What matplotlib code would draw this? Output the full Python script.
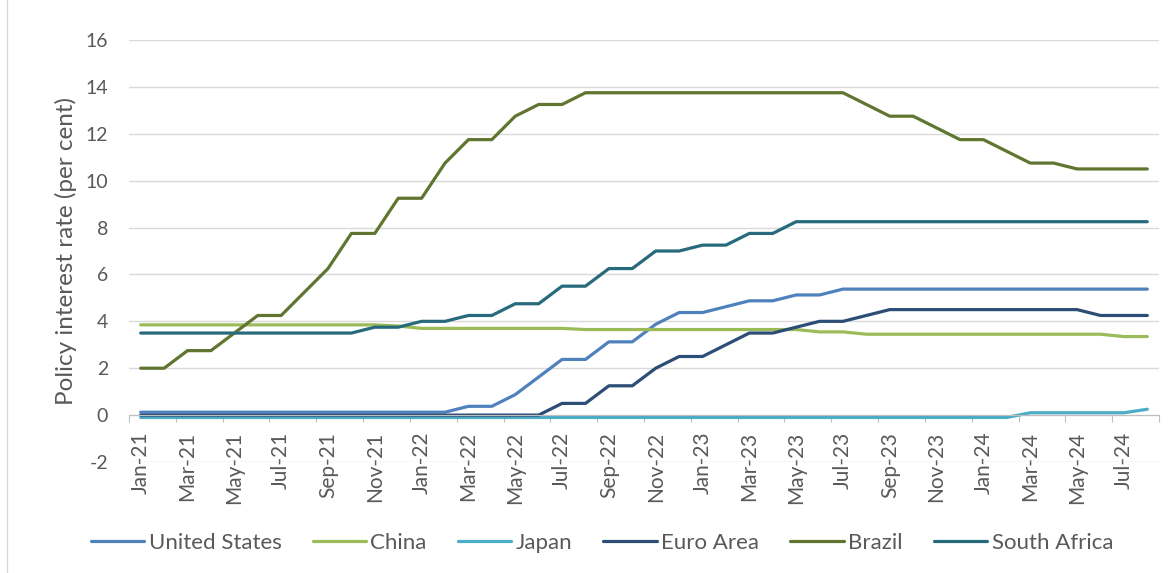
import matplotlib.pyplot as plt
import numpy as np
from matplotlib.lines import Line2D

# Monthly policy rates, Jan-21 .. Aug-24
months = ["Jan", "Feb", "Mar", "Apr", "May", "Jun", "Jul", "Aug", "Sep", "Oct", "Nov", "Dec"]
dates = [m + "-" + str(y) for y in (21, 22, 23, 24) for m in months][:44]

united_states = [0.125] * 14 + [0.375, 0.375, 0.875, 1.625, 2.375, 2.375, 3.125, 3.125, 3.875, 4.375,
                                4.375, 4.625, 4.875, 4.875, 5.125, 5.125] + [5.375] * 14
china = [3.85] * 11 + [3.8] + [3.7] * 7 + [3.65] * 10 + [3.55] * 2 + [3.45] * 11 + [3.35] * 2
japan = [-0.1] * 38 + [0.1] * 5 + [0.25]
euro_area = [0.0] * 18 + [0.5, 0.5, 1.25, 1.25, 2.0, 2.5, 2.5, 3.0, 3.5, 3.5, 3.75, 4.0, 4.0, 4.25] \
    + [4.5] * 9 + [4.25] * 3
brazil = [2.0, 2.0, 2.75, 2.75, 3.5, 4.25, 4.25, 5.25, 6.25, 7.75, 7.75, 9.25, 9.25, 10.75, 11.75, 11.75,
          12.75, 13.25, 13.25] + [13.75] * 12 + [13.25, 12.75, 12.75, 12.25, 11.75, 11.75, 11.25, 10.75,
                                                  10.75] + [10.5] * 4
south_africa = [3.5] * 10 + [3.75, 3.75, 4.0, 4.0, 4.25, 4.25, 4.75, 4.75, 5.5, 5.5, 6.25, 6.25, 7.0, 7.0,
                             7.25, 7.25, 7.75, 7.75] + [8.25] * 16

series = [
    ("United States", united_states, "#4F81BD"),
    ("China", china, "#9BBB59"),
    ("Japan", japan, "#4BACC6"),
    ("Euro Area", euro_area, "#2C4D75"),
    ("Brazil", brazil, "#5F7530"),
    ("South Africa", south_africa, "#276A7C"),
]

plt.rcParams['font.family'] = ['Lato', 'DejaVu Sans']
plt.rcParams['axes.unicode_minus'] = False
text_color = "#595959"

fig = plt.figure(figsize=(11.76, 5.73), dpi=100)
ax = fig.add_axes([129 / 1176, 1 - 462 / 573, (1159 - 129) / 1176, (462 - 40) / 573])

x = np.arange(len(dates))
for name, vals, col in series:
    ax.plot(x, vals, color=col, lw=2.3, label=name, solid_capstyle='round')

ax.set_xlim(-0.5, len(dates) - 0.5)
ax.set_ylim(-2, 16)
ax.set_yticks(np.arange(-2, 17, 2))
ax.grid(axis='y', color="#D9D9D9", lw=1)
ax.set_axisbelow(True)
for s in ("top", "right", "left"):
    ax.spines[s].set_visible(False)
ax.tick_params(axis='y', length=0, labelsize=14, labelcolor=text_color, pad=15)

# category axis line sits at zero, ticks between every second category
ax.spines['bottom'].set_position(('data', 0))
ax.spines['bottom'].set_color("#BFBFBF")
ax.set_xticks(np.arange(-0.5, len(dates), 2))
ax.tick_params(axis='x', which='major', labelbottom=False, direction='out', length=5, color="#BFBFBF")
ax.set_xticks(x[::2], dates[::2], minor=True)
ax.tick_params(axis='x', which='minor', length=0, labelsize=15, labelcolor=text_color,
               rotation=90, pad=12)

ax.set_ylabel("Policy interest rate (per cent)", fontsize=17.5, color=text_color, labelpad=6)

fig.legend(loc='center', bbox_to_anchor=(602 / 1176, 1 - 543 / 573), ncol=6, frameon=False,
           fontsize=16, handlelength=2.4, columnspacing=1.4, handletextpad=0.2,
           labelcolor=text_color)

# left edge of the chart border
fig.add_artist(Line2D([7 / 1176, 7 / 1176], [0, 1], color="#D9D9D9", lw=1))

fig.savefig("out.png", dpi=100)
